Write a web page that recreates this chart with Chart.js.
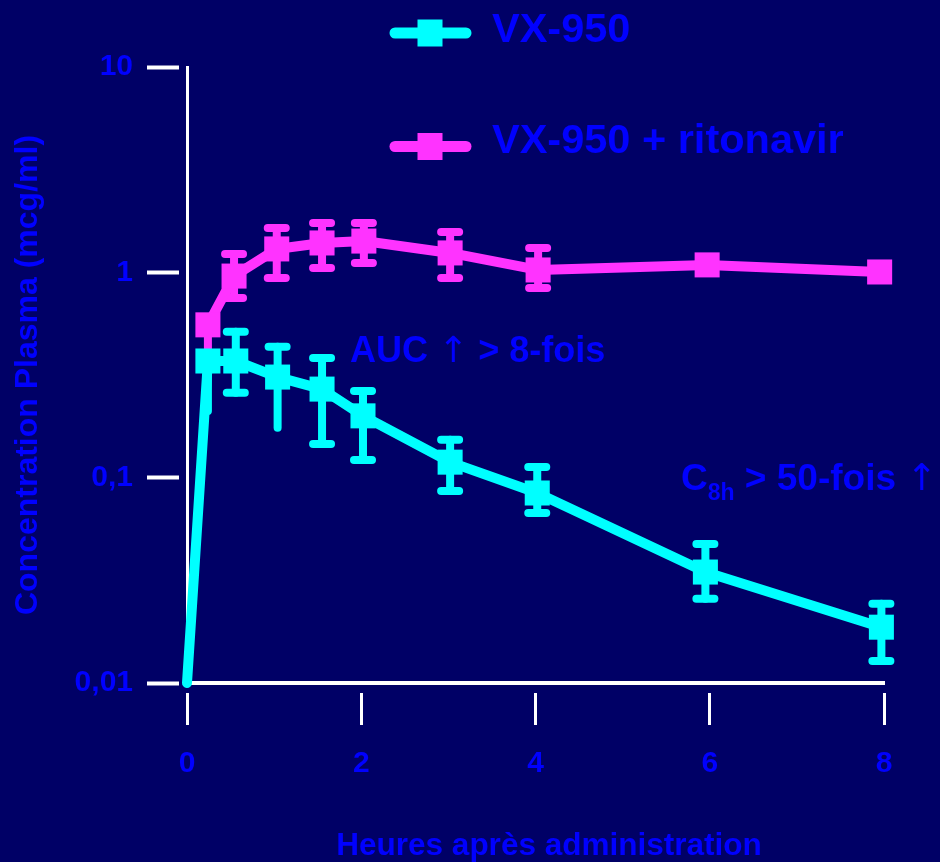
<!DOCTYPE html>
<html>
<head>
<meta charset="utf-8">
<script src="https://cdn.jsdelivr.net/npm/chart.js@4/dist/chart.umd.min.js"></script>
<style>
html,body{margin:0;padding:0;background:#000066;overflow:hidden}
canvas{display:block}
</style>
</head>
<body>
<canvas id="c" width="940" height="862"></canvas>
<script>
// ---- data ----
const seriesNames = ['VX-950', 'VX-950 + ritonavir'];
const vxHours = [0, 0.24, 0.56, 1.04, 1.55, 2.02, 3.02, 4.02, 5.95, 7.97];
const vxConc  = [0.01, 0.370, 0.370, 0.309, 0.270, 0.200, 0.119, 0.0842, 0.0347, 0.0187];
const vxLow   = [null, 0.211, 0.259, 0.175, 0.146, 0.122, 0.0861, 0.0673, 0.0257, 0.0128];
const vxHigh  = [null, null, 0.513, 0.434, 0.383, 0.264, 0.153, 0.1127, 0.0475, 0.0243];
const rtvHours = [0.24, 0.54, 1.03, 1.55, 2.03, 3.02, 4.03, 5.97, 7.95];
const rtvConc  = [0.555, 0.959, 1.30, 1.39, 1.42, 1.243, 1.027, 1.087, 1.004];
const rtvLow   = [0.40, 0.750, 0.939, 1.05, 1.111, 0.939, 0.839, null, null];
const rtvHigh  = [null, 1.229, 1.645, 1.74, 1.74, 1.573, 1.315, null, null];
const xTickValues = [0, 2, 4, 6, 8];
const xTickLabels = ['0', '2', '4', '6', '8'];
const yTickValues = [0.01, 0.1, 1, 10];
const yTickLabels = ['0,01', '0,1', '1', '10'];
const xTitle = 'Heures après administration';
const yTitle = 'Concentration Plasma (mcg/ml)';

// ---- styling ----
const CYAN = '#00ffff', MAGENTA = '#ff33ff', BLUE = '#0000ff';
const FONT = '"Liberation Sans", Arial, Helvetica, sans-serif';
const ARROW_FONT = '"DejaVu Sans", sans-serif';
Chart.defaults.font.family = FONT;
const vxUncappedLow = [1, 3];
const rtvUncappedLow = [0];

const errorBars = {
  id: 'errorBars',
  beforeDatasetDraw(chart, args) {
    const ds = chart.data.datasets[args.index];
    if (!ds.errLow) return;
    const xs = chart.scales.x, ys = chart.scales.y, ctx = chart.ctx;
    ctx.save();
    ctx.strokeStyle = ds.borderColor;
    ctx.lineWidth = 8;
    ctx.lineCap = 'round';
    ds.data.forEach((p, i) => {
      const px = xs.getPixelForValue(p.x), py = ys.getPixelForValue(p.y);
      [[ds.errLow[i], !(ds.uncappedLow || []).includes(i)], [ds.errHigh[i], true]].forEach(([v, cap]) => {
        if (v == null) return;
        const pe = ys.getPixelForValue(v);
        ctx.beginPath(); ctx.moveTo(px, py); ctx.lineTo(px, pe); ctx.stroke();
        if (cap) { ctx.beginPath(); ctx.moveTo(px - 9, pe); ctx.lineTo(px + 9, pe); ctx.stroke(); }
      });
    });
    ctx.restore();
  }
};

const customLegend = {
  id: 'customLegend',
  afterDraw(chart) {
    const ctx = chart.ctx;
    const rows = [{c: 33, base: 42}, {c: 146.5, base: 153}];
    ctx.save();
    chart.data.datasets.forEach((ds, i) => {
      const r = rows[i];
      ctx.strokeStyle = ds.borderColor; ctx.lineWidth = 11; ctx.lineCap = 'round';
      ctx.beginPath(); ctx.moveTo(395, r.c); ctx.lineTo(466, r.c); ctx.stroke();
      ctx.fillStyle = ds.borderColor;
      ctx.fillRect(430 - 12.5, r.c - 13.5, 25, 27);
      ctx.fillStyle = BLUE;
      ctx.font = 'bold 41.5px ' + FONT;
      ctx.textBaseline = 'alphabetic'; ctx.textAlign = 'left';
      ctx.fillText(ds.label, 492, r.base);
    });
    ctx.restore();
  }
};

function drawRun(ctx, x, parts) {
  parts.forEach(([text, font, base]) => {
    ctx.font = font;
    ctx.fillText(text, x, base);
    x += ctx.measureText(text).width;
  });
}

const notes = {
  id: 'notes',
  afterDraw(chart) {
    const ctx = chart.ctx;
    ctx.save();
    ctx.fillStyle = BLUE; ctx.textBaseline = 'alphabetic'; ctx.textAlign = 'left';
    const b36 = 'bold 36px ' + FONT, b37 = 'bold 37px ' + FONT;
    drawRun(ctx, 350, [
      ['AUC ', b36, 362], ['↑', '36px ' + ARROW_FONT, 362], [' > 8-fois', b36, 362]
    ]);
    drawRun(ctx, 681, [
      ['C', b37, 490], ['8h', 'bold 23px ' + FONT, 500], [' > 50-fois ', b37, 490], ['↑', '37px ' + ARROW_FONT, 490]
    ]);
    // x axis title (placed like the reference, slightly right of the plot centre)
    ctx.font = 'bold 31.5px ' + FONT;
    ctx.textAlign = 'center';
    ctx.fillText(xTitle, 549, 855);
    ctx.restore();
  }
};

const mk = (hours, conc) => hours.map((h, i) => ({x: h, y: conc[i]}));

new Chart(document.getElementById('c'), {
  type: 'line',
  data: {
    datasets: [
      {
        label: seriesNames[0], data: mk(vxHours, vxConc),
        errLow: vxLow, errHigh: vxHigh, uncappedLow: vxUncappedLow,
        borderColor: CYAN, backgroundColor: CYAN, pointBackgroundColor: CYAN,
        borderWidth: 10, tension: 0, clip: false,
        borderCapStyle: 'round', borderJoinStyle: 'round',
        pointStyle: 'rect', pointBorderWidth: 0,
        pointRadius: c => c.dataIndex === 0 ? 0 : 17.7
      },
      {
        label: seriesNames[1], data: mk(rtvHours, rtvConc),
        errLow: rtvLow, errHigh: rtvHigh, uncappedLow: rtvUncappedLow,
        borderColor: MAGENTA, backgroundColor: MAGENTA, pointBackgroundColor: MAGENTA,
        borderWidth: 10, tension: 0, clip: false,
        borderCapStyle: 'round', borderJoinStyle: 'round',
        pointStyle: 'rect', pointBorderWidth: 0,
        pointRadius: 17.7
      }
    ]
  },
  options: {
    responsive: false, animation: false, events: [],
    layout: {padding: {top: 67, right: 56, bottom: 0, left: 0}},
    plugins: {legend: {display: false}, tooltip: {enabled: false}},
    scales: {
      x: {
        type: 'linear', position: 'bottom', min: 0, max: 8,
        afterBuildTicks: s => { s.ticks = xTickValues.map(v => ({value: v})); },
        afterFit: s => { s.height = 179; },
        ticks: {callback: (v, i) => xTickLabels[i], color: BLUE, font: {size: 30, weight: 'bold'}, padding: 21, maxRotation: 0, autoSkip: false},
        grid: {display: true, drawOnChartArea: false, drawTicks: true, tickLength: 42, tickWidth: 3, tickColor: '#ffffff', tickBorderDash: [32, 8], tickBorderDashOffset: 32},
        border: {display: true, color: '#ffffff', width: 4},
        title: {display: false, text: xTitle}
      },
      y: {
        type: 'logarithmic', position: 'left', min: 0.01, max: 10,
        afterBuildTicks: s => { s.ticks = yTickValues.map(v => ({value: v})); },
        afterFit: s => { s.width = 187; },
        ticks: {callback: (v, i) => yTickLabels[i], color: BLUE, font: {size: 30, weight: 'bold'}, padding: 14, autoSkip: false},
        grid: {display: true, drawOnChartArea: false, drawTicks: true, tickLength: 40, tickWidth: 4, tickColor: '#ffffff', tickBorderDash: [32, 20]},
        border: {display: true, color: '#ffffff', width: 3},
        title: {display: true, text: yTitle, color: BLUE, font: {size: 32, weight: 'bold'}, padding: {top: 9, bottom: 0}}
      }
    }
  },
  plugins: [errorBars, customLegend, notes]
});
</script>
</body>
</html>
